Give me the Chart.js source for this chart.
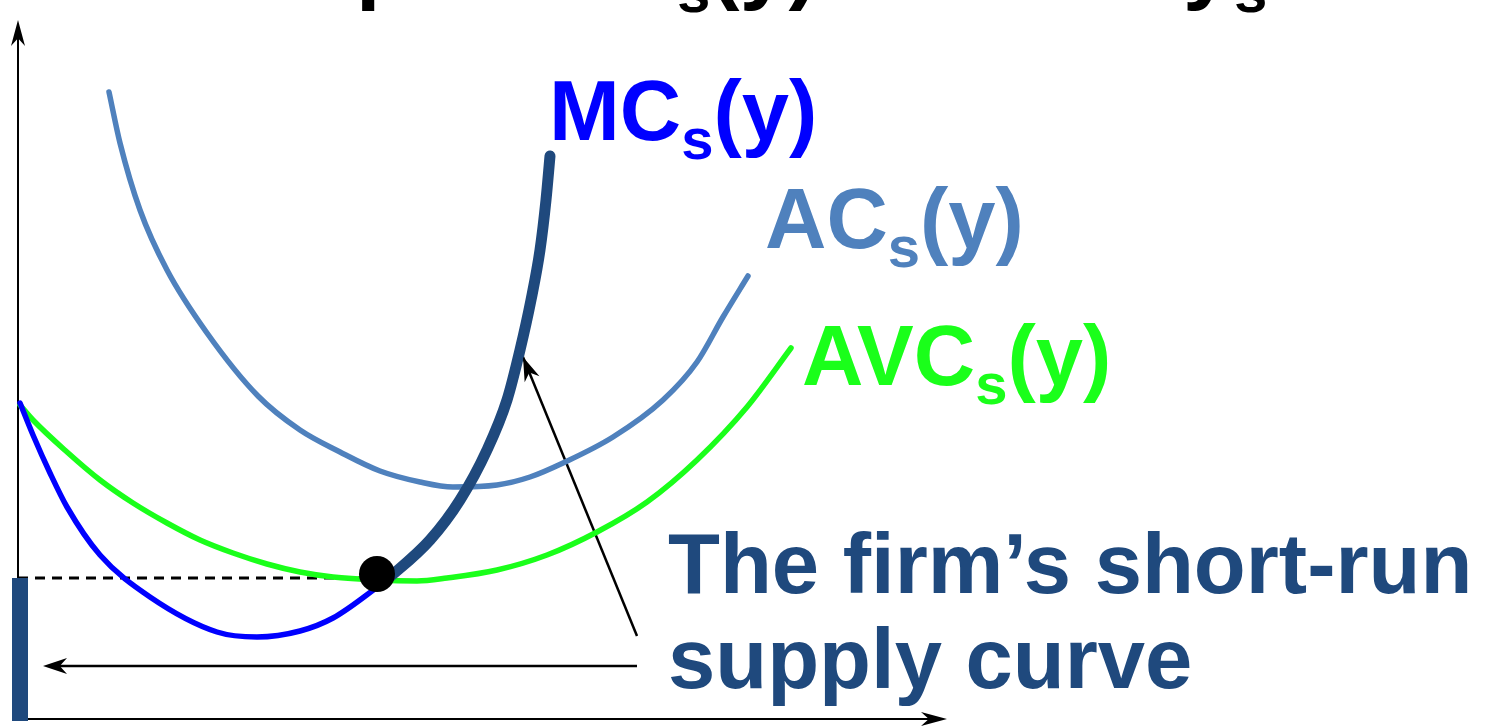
<!DOCTYPE html>
<html>
<head>
<meta charset="utf-8">
<script src="https://cdn.jsdelivr.net/npm/chart.js@4"></script>
<style>
  html, body { margin: 0; padding: 0; background: #fff; overflow: hidden; }
  #wrap { width: 1490px; height: 728px; position: relative; }
</style>
</head>
<body>
<div id="wrap"><canvas id="costChart"></canvas></div>
<script>
// valeurs (x = quantité y, y = prix), unités arbitraires
const mcX = [0.2, 1.5, 3.2, 4.9, 8.2, 13.2, 19.9, 23.9, 28.2, 31.5, 36.5];
const mcY = [31.6, 28.4, 24.6, 21.2, 16.4, 12.2, 8.7, 8.2, 8.8, 10.1, 13.6];

const supplyX = [36.5, 41.2, 44.2, 46.9, 48.9, 50.2, 51.3, 52.2, 52.8, 53.2];
const supplyY = [13.6, 17.9, 21.9, 26.9, 31.9, 36.9, 41.9, 46.9, 51.9, 56.3];

const acX = [9.1, 10.2, 12.2, 14.9, 18.9, 24.0, 28.2, 32.2, 36.2, 40.2, 43.5, 47.9, 51.2, 54.5, 59.5, 64.5, 67.9, 70.5, 73.0];
const acY = [62.7, 57.6, 50.9, 44.9, 38.6, 32.3, 28.9, 26.7, 24.8, 23.7, 23.2, 23.4, 24.2, 25.6, 28.2, 31.9, 35.7, 40.2, 44.3];

const avcX = [0.2, 1.5, 4.9, 8.2, 11.5, 14.9, 18.2, 21.5, 24.9, 28.2, 31.5, 35.9, 39.9, 42.9, 47.9, 52.9, 57.9, 62.9, 67.9, 72.9, 77.3];
const avcY = [31.4, 29.9, 26.7, 23.9, 21.6, 19.6, 17.9, 16.6, 15.5, 14.7, 14.2, 13.9, 13.8, 14.1, 14.9, 16.4, 18.7, 21.7, 25.9, 31.2, 37.1];

// seuil de fermeture (min AVC) et point de fermeture
const shutdownPrice = 14.1;
const shutdownPoint = [35.9, 14.5];

// flèches d'annotation : [départ, pointe]
const arrowSlant = [[61.9, 8.3], [50.5, 36.2]];
const arrowFlat = [[61.9, 5.3], [2.5, 5.3]];

// extrémités des axes
const axisXEnd = 92.9;
const axisYEnd = 69.9;

const labels = [
  { main: "MC", sub: "s", tail: "(y)", color: "#0000ff", x: 53.1, y: 57.9 },
  { main: "AC", sub: "s", tail: "(y)", color: "#4f81bd", x: 74.7, y: 47.1 },
  { main: "AVC", sub: "s", tail: "(y)", color: "#1aff1a", x: 78.4, y: 33.4 }
];
const noteLines = ["The firm’s short-run", "supply curve"];

function pts(xs, ys) {
  return xs.map(function (x, i) { return { x: x, y: ys[i] }; });
}

const FONT = '"Liberation Sans", Arial, sans-serif';

function drawSubLabel(ctx, x, y, main, sub, tail, size, color) {
  ctx.fillStyle = color;
  ctx.font = "bold " + size + "px " + FONT;
  ctx.fillText(main, x, y);
  let cx = x + ctx.measureText(main).width;
  const subSize = Math.round(size * 0.68);
  ctx.font = "bold " + subSize + "px " + FONT;
  ctx.fillText(sub, cx, y + size * 0.22);
  cx += ctx.measureText(sub).width;
  ctx.font = "bold " + size + "px " + FONT;
  ctx.fillText(tail, cx, y);
  return cx + ctx.measureText(tail).width;
}

function stealth(ctx, fx, fy, tx, ty, len, half) {
  const a = Math.atan2(ty - fy, tx - fx);
  const c = Math.cos(a), s = Math.sin(a);
  ctx.beginPath();
  ctx.moveTo(tx, ty);
  ctx.lineTo(tx - len * c + half * s, ty - len * s - half * c);
  ctx.lineTo(tx - len * 0.7 * c, ty - len * 0.7 * s);
  ctx.lineTo(tx - len * c - half * s, ty - len * s + half * c);
  ctx.closePath();
  ctx.fill();
}

// titre de la diapositive, coupé par le haut de l'image
function drawTitle(ctx) {
  const base = -7;
  ctx.fillStyle = "#000";
  ctx.font = "bold 88px " + FONT;
  ctx.textAlign = "left";
  ctx.fillText("p", 356, base);
  ctx.textAlign = "right";
  ctx.fillText("= MC", 677, base);
  ctx.textAlign = "left";
  ctx.font = "bold 60px " + FONT;
  ctx.fillText("s", 677, base + 19);
  const cx = 677 + ctx.measureText("s").width;
  ctx.font = "bold 88px " + FONT;
  ctx.fillText("(y) for", cx, base);
  ctx.textAlign = "right";
  ctx.fillText("≥ y", 1232, base);
  ctx.textAlign = "left";
  ctx.font = "bold 60px " + FONT;
  ctx.fillText("s", 1234, base + 19);
}

const decor = {
  id: "decor",
  beforeDatasetsDraw(chart) {
    const ctx = chart.ctx;
    const xs = chart.scales.x, ys = chart.scales.y;
    const ox = xs.getPixelForValue(0), oy = ys.getPixelForValue(0);
    const ex = xs.getPixelForValue(axisXEnd), ey = ys.getPixelForValue(axisYEnd);
    ctx.save();
    ctx.strokeStyle = "#000";
    ctx.fillStyle = "#000";
    ctx.lineWidth = 2;
    ctx.beginPath();
    ctx.moveTo(ox, oy);
    ctx.lineTo(ex - 10, oy);
    ctx.moveTo(ox, oy);
    ctx.lineTo(ox, ey + 10);
    ctx.stroke();
    stealth(ctx, ox, oy, ex, oy, 26, 7);
    stealth(ctx, ox, oy, ox, ey, 26, 7);
    ctx.restore();
  },
  afterDatasetsDraw(chart) {
    const ctx = chart.ctx;
    const xs = chart.scales.x, ys = chart.scales.y;
    ctx.save();
    ctx.fillStyle = "#000";
    [arrowSlant, arrowFlat].forEach(function (arr) {
      stealth(ctx,
        xs.getPixelForValue(arr[0][0]), ys.getPixelForValue(arr[0][1]),
        xs.getPixelForValue(arr[1][0]), ys.getPixelForValue(arr[1][1]), 24, 8);
    });
    ctx.textBaseline = "alphabetic";
    ctx.textAlign = "left";
    labels.forEach(function (l) {
      drawSubLabel(ctx, xs.getPixelForValue(l.x), ys.getPixelForValue(l.y),
        l.main, l.sub, l.tail, 85, l.color);
    });
    ctx.fillStyle = "#1f497d";
    ctx.font = "bold 85px " + FONT;
    ctx.fillText(noteLines[0], xs.getPixelForValue(65.0), ys.getPixelForValue(12.6));
    ctx.fillText(noteLines[1], xs.getPixelForValue(65.0), ys.getPixelForValue(3.1));
    drawTitle(ctx);
    ctx.restore();
  }
};

const curve = {
  borderCapStyle: "round",
  borderJoinStyle: "round",
  cubicInterpolationMode: "monotone",
  pointRadius: 0,
  fill: false
};

new Chart(document.getElementById("costChart").getContext("2d"), {
  type: "line",
  data: {
    datasets: [
      {
        label: "shutdown point",
        data: [{ x: shutdownPoint[0], y: shutdownPoint[1] }],
        showLine: false,
        pointRadius: 18,
        pointBackgroundColor: "#000",
        pointBorderWidth: 0,
        order: 0
      },
      Object.assign({}, curve, {
        label: "supply (MC above AVC)",
        data: pts(supplyX, supplyY),
        borderColor: "#1f497d",
        borderWidth: 11,
        order: 1
      }),
      {
        label: "zero supply",
        data: [{ x: 0.2, y: shutdownPrice }, { x: 0.2, y: -0.2 }],
        borderColor: "#1f497d",
        borderWidth: 16,
        pointRadius: 0,
        order: 1
      },
      Object.assign({}, curve, {
        label: "MCs(y)",
        data: pts(mcX, mcY),
        borderColor: "#0000ff",
        borderWidth: 5.5,
        order: 2
      }),
      Object.assign({}, curve, {
        label: "AVCs(y)",
        data: pts(avcX, avcY),
        borderColor: "#1aff1a",
        borderWidth: 5.5,
        order: 3
      }),
      Object.assign({}, curve, {
        label: "ACs(y)",
        data: pts(acX, acY),
        borderColor: "#4f81bd",
        borderWidth: 5.5,
        order: 4
      }),
      {
        label: "min AVC",
        data: [{ x: 0, y: shutdownPrice }, { x: shutdownPoint[0] - 1.7, y: shutdownPrice }],
        borderColor: "#000",
        borderWidth: 3,
        borderDash: [10, 7],
        pointRadius: 0,
        order: 5
      },
      {
        label: "arrow 1",
        data: pts([arrowSlant[0][0], arrowSlant[1][0]], [arrowSlant[0][1], arrowSlant[1][1]]),
        borderColor: "#000",
        borderWidth: 2.5,
        pointRadius: 0,
        order: 6
      },
      {
        label: "arrow 2",
        data: pts([arrowFlat[1][0] + 1.5, arrowFlat[0][0]], [arrowFlat[1][1], arrowFlat[0][1]]),
        borderColor: "#000",
        borderWidth: 2.5,
        pointRadius: 0,
        order: 6
      }
    ]
  },
  options: {
    responsive: true,
    maintainAspectRatio: false,
    animation: false,
    layout: { padding: 0, autoPadding: false },
    plugins: { legend: { display: false }, tooltip: { enabled: false } },
    scales: {
      x: { type: "linear", min: -1.8, max: 147.2, display: false },
      y: { type: "linear", min: -0.9, max: 71.9, display: false }
    }
  },
  plugins: [decor]
});
</script>
</body>
</html>
